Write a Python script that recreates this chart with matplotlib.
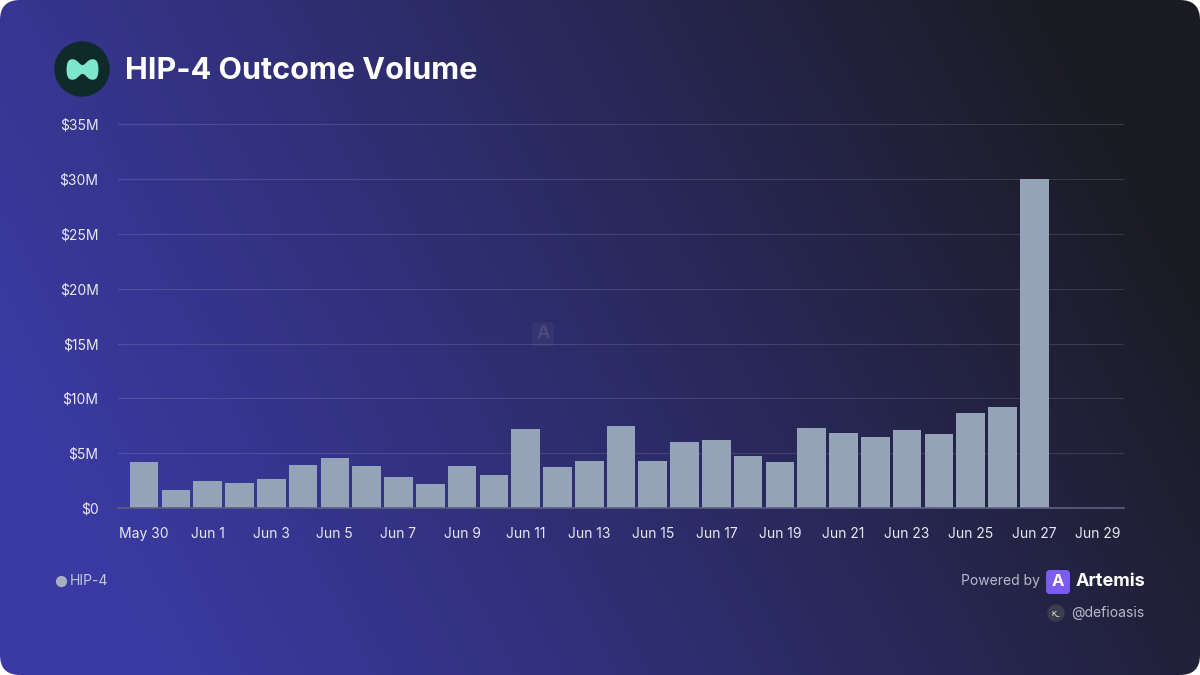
import numpy as np
import matplotlib
matplotlib.use('Agg')
import matplotlib.pyplot as plt
from matplotlib.patches import FancyBboxPatch, Circle
from matplotlib.colors import to_rgb
import matplotlib.ticker as ticker

plt.rcParams['font.family'] = ['Inter', 'DejaVu Sans']

# data (USD millions per day)
days = ['May 30', 'May 31', 'Jun 1', 'Jun 2', 'Jun 3', 'Jun 4', 'Jun 5', 'Jun 6',
        'Jun 7', 'Jun 8', 'Jun 9', 'Jun 10', 'Jun 11', 'Jun 12', 'Jun 13', 'Jun 14',
        'Jun 15', 'Jun 16', 'Jun 17', 'Jun 18', 'Jun 19', 'Jun 20', 'Jun 21', 'Jun 22',
        'Jun 23', 'Jun 24', 'Jun 25', 'Jun 26', 'Jun 27', 'Jun 28', 'Jun 29']
volume = [4.15, 1.6, 2.45, 2.25, 2.65, 3.9, 4.55, 3.85, 2.85, 2.2, 3.85, 3.0, 7.2,
          3.75, 4.3, 7.5, 4.3, 6.0, 6.2, 4.75, 4.15, 7.3, 6.85, 6.5, 7.1, 6.75, 8.65,
          9.2, 30.0, 0, 0]
y_ticks = [0, 5, 10, 15, 20, 25, 30, 35]

W, H = 1200, 675
fig = plt.figure(figsize=(12, 6.75), dpi=100)
fig.patch.set_facecolor('white')

# background card with gradient
bg = fig.add_axes([0, 0, 1, 1])
bg.set_xlim(0, W)
bg.set_ylim(0, H)
bg.axis('off')
xx, yy = np.meshgrid(np.linspace(0, 1, 400), np.linspace(0, 1, 225))
t = np.clip(0.95 * xx + 0.28 * yy - 0.12, 0, 1) ** 1.1
c0 = np.array(to_rgb('#3b3aa2'))
c1 = np.array(to_rgb('#1b1b22'))
img = c0[None, None, :] * (1 - t[..., None]) + c1[None, None, :] * t[..., None]
card = FancyBboxPatch((0, 0), W, H, boxstyle='round,pad=0,rounding_size=20',
                      transform=bg.transData, facecolor='none', edgecolor='none')
bg.add_patch(card)
im = bg.imshow(img, extent=[0, W, 0, H], origin='lower', aspect='auto')
im.set_clip_path(card)

# logo
bg.add_patch(Circle((82, H - 69), 27, color='#0e2b2a'))
lx = np.linspace(-1, 1, 100)
up = 0.62 * np.sqrt(np.clip(1 - lx ** 8, 0, 1)) - 0.36 * np.exp(-(lx / 0.33) ** 2)
bg.fill_between(82 + 16 * lx, H - 69 - 17 * up, H - 69 + 17 * up, color='#7ee6cf', lw=0)

bg.text(125, H - 71, 'HIP-4 Outcome Volume', fontsize=22, fontweight='bold',
        color='white', va='center', ha='left')

# watermark
bg.add_patch(FancyBboxPatch((532, H - 346), 22, 24, boxstyle='round,pad=0,rounding_size=3',
                            facecolor='#ffffff', alpha=0.04, edgecolor='none'))
bg.text(543, H - 334, 'A', fontsize=13, fontweight='bold', color='white', alpha=0.1,
        ha='center', va='center')

# chart
ax = fig.add_axes([118 / W, (H - 508) / H, (1124 - 118) / W, (508 - 122) / H])
ax.set_facecolor('none')
x = np.arange(len(days))
ax.bar(x, volume, width=0.9, color='#94a3b8', zorder=3)
ax.set_xlim(-0.82, len(days) - 1 + 0.82)
ax.set_ylim(0, 35.2)
ax.set_yticks(y_ticks)
ax.yaxis.set_major_formatter(ticker.FuncFormatter(lambda v, p: '$0' if v == 0 else '$%dM' % v))
ax.set_xticks(x[::2])
ax.set_xticklabels(days[::2])
ax.grid(axis='y', color='#ffffff', alpha=0.12, lw=0.8, zorder=0)
for s in ['top', 'right', 'left']:
    ax.spines[s].set_visible(False)
ax.spines['bottom'].set_color('#5c6080')
ax.spines['bottom'].set_linewidth(1.2)
ax.spines['bottom'].set_zorder(4)
ax.tick_params(axis='both', length=0, labelsize=10, labelcolor='#e8e9f2')
ax.tick_params(axis='y', pad=14)
ax.tick_params(axis='x', pad=14)

# legend
bg.scatter([61], [H - 581], s=50, color='#a8afc0', zorder=5)
bg.text(70, H - 581, 'HIP-4', fontsize=10, color='#c4c8e0', va='center', ha='left')

# branding
bg.text(1040, H - 581, 'Powered by', fontsize=10, color='#b8bac8', va='center', ha='right')
bg.add_patch(FancyBboxPatch((1046, H - 594), 24, 24, boxstyle='round,pad=0,rounding_size=4',
                            facecolor='#7a5cf2', edgecolor='none'))
bg.text(1058, H - 582, 'A', fontsize=12, fontweight='bold', color='white', ha='center', va='center')
bg.text(1076, H - 581, 'Artemis', fontsize=13, fontweight='bold', color='white', va='center', ha='left')
bg.add_patch(Circle((1056, H - 613), 8, color='#3c3d4c'))
bg.text(1056, H - 613, 'K_', fontsize=5.5, color='white', ha='center', va='center')
bg.text(1144, H - 613, '@defioasis', fontsize=10, color='#b8bac8', va='center', ha='right')

fig.savefig('out.png', dpi=100, facecolor=fig.get_facecolor())
